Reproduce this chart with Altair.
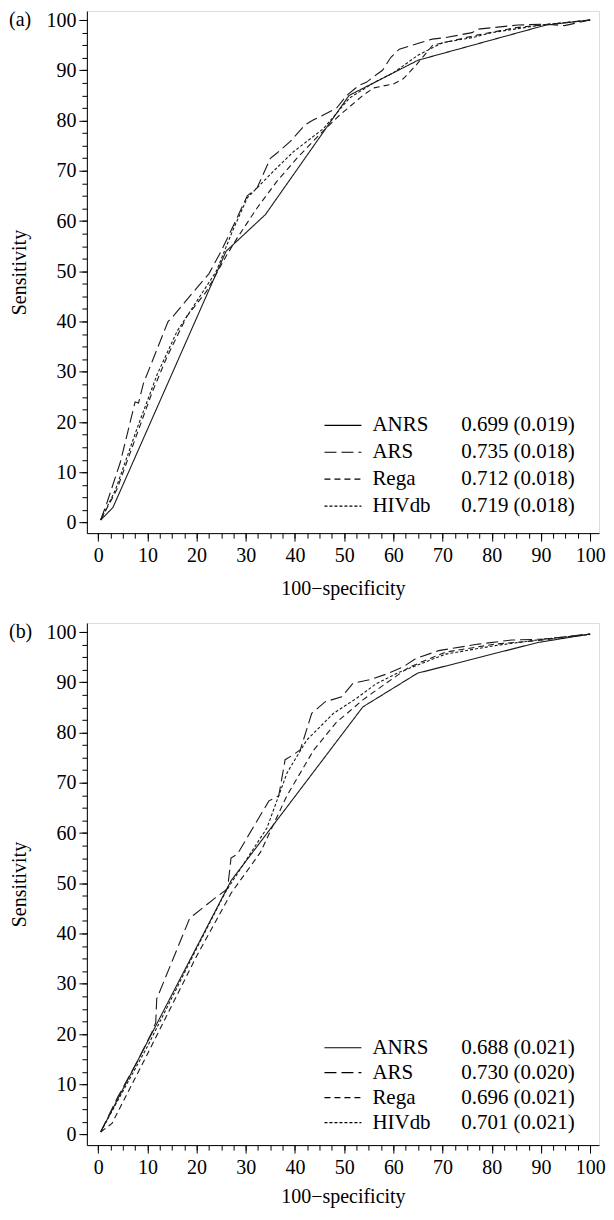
import altair as alt
import pandas as pd

FONT = "Liberation Serif"

names = ["ANRS", "ARS", "Rega", "HIVdb"]
auc_a = ["0.699 (0.019)", "0.735 (0.018)", "0.712 (0.018)", "0.719 (0.018)"]
auc_b = ["0.688 (0.021)", "0.730 (0.020)", "0.696 (0.021)", "0.701 (0.021)"]

# ---- panel (a) ----
a_anrs_x = [0.5, 3, 26, 34, 51, 65, 91, 100]
a_anrs_y = [0.5, 3, 54, 61.3, 85, 92, 99, 100]
a_ars_x = [0.5, 1.7, 4.5, 7.5, 8.2, 9.2, 14.2, 15.2, 19, 22.5, 25, 27.3, 30.3, 32.3, 35, 36.3, 39, 42,
           43.7, 48.4, 50.5, 53, 54.5, 56.8, 57.8, 59.5, 61.2, 67.9, 70.6, 76, 77.3, 85.3, 90.7, 94.8, 100]
a_ars_y = [0.5, 3.7, 12, 24, 23.8, 27.7, 40, 41, 45.5, 49.5, 54, 58.7, 65, 66.6, 72.5, 73.5, 75.8, 79.1,
           80.1, 82.4, 85, 87, 87.6, 89.3, 90, 92.6, 94.2, 96.2, 96.5, 97.5, 98.2, 99, 99.2, 98.9, 100]
a_rega_x = [0.5, 3.8, 11, 14, 18, 22, 26, 28.3, 32.3, 36.4, 40.4, 45, 49, 53.8, 56, 60, 62, 64.6, 68, 77, 85, 95, 100]
a_rega_y = [0.5, 6.6, 26, 33, 41, 46, 53, 56.7, 62.6, 68, 72.5, 77.2, 81, 85, 86.5, 87.3, 88.3, 91, 95, 97, 98.5, 99.5, 100]
a_hiv_x = [0.5, 3.5, 8, 12, 16, 20, 24, 27.3, 30.3, 35.7, 39.7, 45.8, 51.1, 56, 60, 65, 70, 76, 80, 90, 100]
a_hiv_y = [0.5, 6.5, 19, 29.5, 38, 44, 50, 58, 64.6, 70, 73.8, 78.4, 84.5, 87.5, 89.5, 93, 95.5, 96.5, 97.5, 99, 100]

# ---- panel (b) ----
b_anrs_x = [0.5, 27, 53.8, 64.9, 89.3, 100]
b_anrs_y = [0.5, 50.5, 85.1, 91.8, 97.9, 99.6]
b_ars_x = [0.5, 4, 8.2, 10.9, 11.7, 11.9, 18.5, 19.3, 23.8, 26.3, 27, 28.3, 34.7, 36.7, 38, 39.7, 41.1,
           43.4, 46.1, 49.5, 51.8, 55.2, 58.5, 61.9, 64.5, 69.2, 77.3, 84, 90.7, 100]
b_ars_y = [0.5, 7.5, 15, 20.3, 22.3, 27, 42.8, 43.6, 47.1, 48.9, 55, 55.8, 66.4, 67.4, 74.6, 75.6, 76.6,
           83.8, 86.1, 87.1, 89.8, 90.5, 91.6, 93, 94.7, 96.3, 97.6, 98.4, 98.6, 99.6]
b_rega_x = [0.5, 2.8, 10, 20, 27, 33, 38.4, 43.8, 48.4, 53.8, 58.5, 63.2, 70.6, 80.7, 89.4, 100]
b_rega_y = [0.5, 2.2, 16, 35.5, 48, 56.2, 67.5, 76.5, 82, 86.5, 89.8, 93, 96, 97.6, 98.3, 99.6]
b_hiv_x = [0.5, 3, 10, 20, 25.9, 30, 34.3, 38.4, 42.4, 47.8, 52.5, 56.5, 61.2, 70.6, 80.7, 90.7, 100]
b_hiv_y = [0.5, 5, 17.5, 37, 48.3, 54.5, 61, 72, 78.5, 83.8, 86.8, 89.7, 92, 95.6, 97.3, 98.6, 99.5]

major_ticks = [0, 10, 20, 30, 40, 50, 60, 70, 80, 90, 100]
minor_ticks = [i * 2.5 for i in range(41)]
dash_range = [[1, 0], [12, 5], [6, 4], [3, 2]]

XDOM = [-2.3, 101.8]
YDOM = [-2.1, 101.8]


def major_axis(title, orient, pad, tpad):
    return alt.Axis(values=major_ticks, orient=orient, tickSize=8, format="d",
                    labelPadding=pad, labelFlush=False, labelOverlap=False, grid=False,
                    domainColor="black", tickColor="black", labelColor="black",
                    labelFont=FONT, labelFontSize=20, title=title, titleFont=FONT,
                    titleFontSize=20, titleFontWeight="normal", titleColor="black",
                    titlePadding=tpad, domainWidth=1, tickWidth=1)


def minor_axis(orient):
    return alt.Axis(values=minor_ticks, orient=orient, tickSize=5, labels=False, domain=False,
                    grid=False, tickColor="black", tickWidth=1, title=None)


def panel(series, aucs, tag, xtitle_pad, leg_y, row_h):
    rows = []
    for name, (xs, ys), auc in zip(names, series, aucs):
        for x, y in zip(xs, ys):
            rows.append({"name": name, "auc": auc, "x": x, "y": y})
    df = pd.DataFrame(rows)
    xs = alt.Scale(domain=XDOM, nice=False, zero=False)
    ys = alt.Scale(domain=YDOM, nice=False, zero=False)
    lines = alt.Chart(df).mark_line(strokeWidth=1.1).encode(
        x=alt.X("x:Q", scale=xs, axis=major_axis("100\u2212specificity", "bottom", 4, xtitle_pad)),
        y=alt.Y("y:Q", scale=ys, axis=major_axis("Sensitivity", "left", 3, 16)),
        strokeDash=alt.StrokeDash("name:N", sort=names,
                                  scale=alt.Scale(domain=names, range=dash_range),
                                  legend=alt.Legend(title=None, orient="none", legendX=237, legendY=leg_y,
                                                    symbolType="stroke", symbolSize=1369,
                                                    symbolStrokeWidth=1.2, symbolStrokeColor="black",
                                                    labelFont=FONT, labelFontSize=21, labelColor="black",
                                                    labelOffset=10, clipHeight=row_h, rowPadding=2, padding=0)),
        color=alt.Color("auc:N", sort=aucs,
                        scale=alt.Scale(domain=aucs, range=["#1a1a1a"] * 4),
                        legend=alt.Legend(title=None, orient="none", legendX=354, legendY=leg_y,
                                          symbolSize=0, symbolOpacity=0, labelOffset=0,
                                          labelFont=FONT, labelFontSize=21, labelColor="black",
                                          clipHeight=row_h, rowPadding=2, padding=0)),
        order=alt.Order("x:Q"),
    )
    minor = alt.Chart(df).mark_point(opacity=0).encode(
        x=alt.X("x:Q", scale=xs, axis=minor_axis("bottom")),
        y=alt.Y("y:Q", scale=ys, axis=minor_axis("left")),
    )
    label = alt.Chart(pd.DataFrame({"tag": [tag]})).mark_text(
        font=FONT, fontSize=20, align="left", baseline="middle", color="black"
    ).encode(text="tag:N", x=alt.value(-78), y=alt.YDatum(100, axis=None))
    return alt.layer(lines, minor, label).resolve_axis(x="independent", y="independent").properties(
        width=513, height=523)


pa = panel([(a_anrs_x, a_anrs_y), (a_ars_x, a_ars_y), (a_rega_x, a_rega_y), (a_hiv_x, a_hiv_y)],
           auc_a, "(a)", 13, 402.5, 25)
pb = panel([(b_anrs_x, b_anrs_y), (b_ars_x, b_ars_y), (b_rega_x, b_rega_y), (b_hiv_x, b_hiv_y)],
           auc_b, "(b)", 9, 414, 23)

chart = alt.vconcat(pa, pb, spacing=22).resolve_scale(
    color="independent", strokeDash="independent"
).resolve_legend(color="independent", strokeDash="independent").properties(
    padding={"left": 0, "top": 0, "right": 0, "bottom": 0}
).configure_view(stroke=None).configure(background="white")

chart.save("out.html", embed_options={"renderer": "svg", "actions": False})
